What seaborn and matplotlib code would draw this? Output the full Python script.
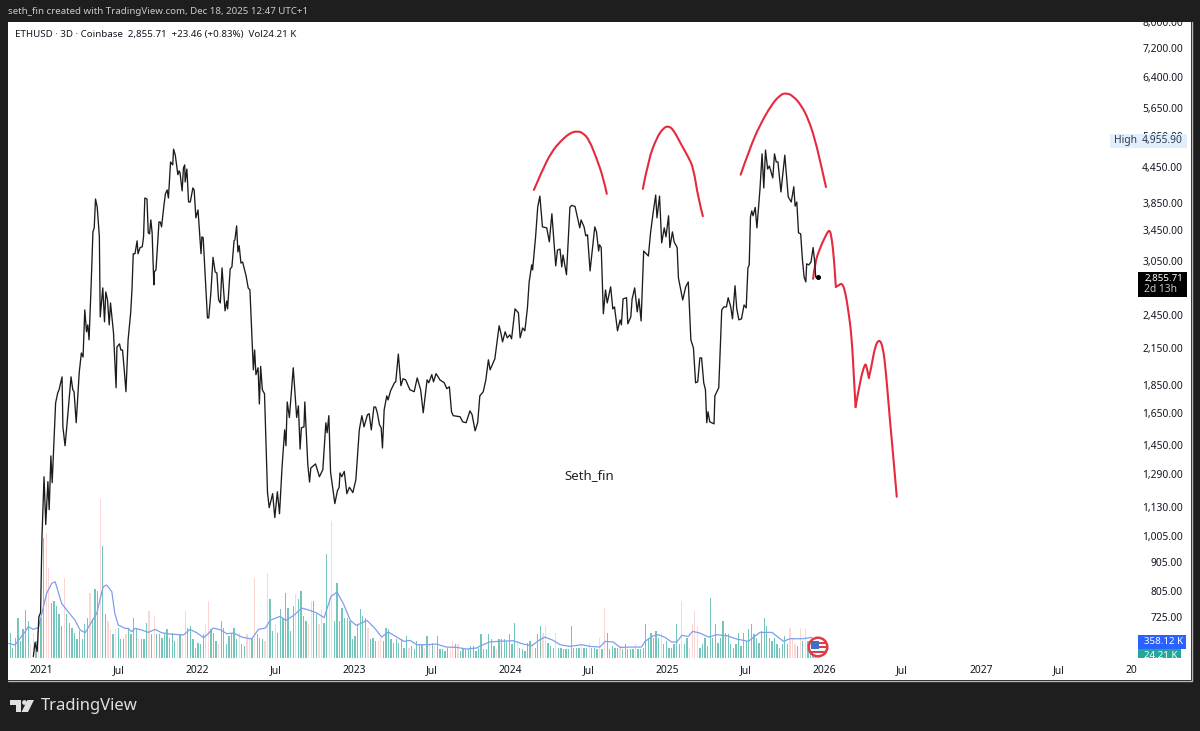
import numpy as np
import pandas as pd
import matplotlib
matplotlib.use('Agg')
import matplotlib.pyplot as plt
import matplotlib.dates as mdates
from matplotlib.patches import Rectangle, Circle, Polygon, PathPatch
from matplotlib.path import Path
from matplotlib.ticker import NullFormatter
import seaborn as sns

# Close prices, days counted from 2021-01-01
price_days = [-18,-14,-9,-5,-1,2,7,11,16,19,23,26,34,39,42,49,51,56,60,70,74,77,82,89,94,98,102,106,109,112,
    117,121,124,127,131,136,138,144,148,151,155,159,162,169,175,177,183,186,190,194,198,203,209,212,215,219,224,226,231,236,
    239,242,247,250,253,256,259,263,264,268,275,278,281,287,290,294,297,302,307,309,313,319,322,324,329,332,335,336,340,344,
    348,354,357,361,366,373,375,378,388,391,396,401,406,410,414,418,422,429,433,435,441,445,450,452,456,459,462,466,470,478,
    483,487,495,498,501,506,509,512,516,521,528,532,540,545,551,556,562,568,571,574,579,588,596,600,604,607,613,615,622,626,
    629,640,649,657,664,667,671,675,685,691,695,697,701,707,713,719,727,734,742,748,753,761,765,770,776,780,784,789,793,796,
    800,806,809,815,824,827,833,839,844,850,860,870,877,885,891,900,904,911,915,921,930,940,946,952,957,961,977,983,991,1000,
    1005,1012,1018,1023,1031,1037,1043,1047,1058,1068,1072,1076,1082,1087,1093,1097,1105,1113,1117,1123,1128,1134,1138,1144,1146,1153,1158,1163,1169,1179,
    1185,1191,1200,1204,1210,1214,1217,1225,1233,1237,1245,1256,1259,1266,1270,1274,1280,1291,1295,1300,1302,1306,1311,1316,1320,1328,1333,1337,1344,1350,
    1353,1357,1365,1368,1375,1378,1384,1390,1394,1399,1405,1416,1421,1427,1433,1436,1442,1447,1453,1457,1463,1466,1472,1476,1483,1486,1496,1503,1509,1513,
    1515,1521,1526,1531,1536,1540,1545,1549,1552,1555,1559,1569,1571,1580,1587,1592,1598,1602,1608,1612,1618,1622,1627,1633,1639,1644,1648,1651,1654,1657,
    1660,1665,1669,1676,1681,1685,1689,1694,1698,1706,1710,1714,1718,1725,1734,1742,1749,1755,1758,1762,1766,1771,1775,1779,1783,1785,1790,1795,1800,1804,
    1806,1808,1812]
price_close = [618,654,631,726,738,990,1277,1053,1252,1118,1389,1247,1720,1792,1814,1911,1562,1447,1562,1911,1814,1800,1588,1942,2104,2070,2504,2292,2357,2219,
    2792,3430,3486,3917,3793,3362,2434,2736,2386,2692,2606,2357,2575,2282,1829,2156,2183,2130,2130,1966,1800,2219,2474,2714,3140,3140,3308,3140,3220,3230,
    3362,3932,3917,3417,3403,3600,3417,2770,2918,2942,3570,3570,3500,3843,4000,4063,3932,4548,4494,4790,4675,4320,4388,4355,4047,4440,4494,4196,4420,3870,
    3870,4095,4063,3630,3748,3140,3362,3350,2424,2424,2685,3095,2918,2906,2606,2575,2966,2494,2595,2514,2954,2978,3308,3321,3514,3164,3244,3025,3037,2873,
    2736,2714,1966,2130,1928,1982,1713,1993,1814,1785,1198,1127,1193,1083,1202,1100,1331,1543,1447,1727,1622,1982,1622,1700,1428,1556,1562,1727,1340,1250,
    1323,1345,1277,1314,1588,1525,1634,1301,1146,1207,1224,1297,1277,1305,1193,1224,1198,1262,1543,1634,1562,1640,1647,1543,1692,1692,1653,1575,1556,1434,
    1673,1770,1741,1807,1866,1873,2095,1844,1897,1888,1814,1800,1903,1814,1653,1888,1866,1928,1873,1936,1888,1866,1822,1836,1660,1634,1627,1594,1588,1666,
    1640,1537,1588,1770,1800,1888,2047,1966,2055,2348,2282,2201,2292,2237,2264,2228,2514,2474,2237,2328,2301,2524,2803,3003,2942,3362,3793,3963,3500,3486,
    3295,3690,2990,3188,3200,2978,3125,2885,3786,3817,3800,3486,3600,3500,3376,3390,2930,3500,3430,3175,3256,3220,2465,2714,2575,2748,2514,2534,2301,2405,
    2357,2618,2630,2367,2434,2616,2736,2484,2618,2395,3175,3112,3417,3704,3980,3630,3963,3281,3486,3362,3660,3220,3430,3295,3220,2849,2606,2748,2803,2405,
    2219,2147,1866,1873,2063,2063,1866,1814,1588,1660,1594,1581,1770,1829,2504,2534,2534,2630,2534,2415,2760,2514,2405,2415,2554,2524,2966,3003,3646,3733,
    3660,3786,3486,4063,4700,4095,4772,4420,4475,4264,4700,4548,4548,4030,4675,3950,3870,4115,3805,3870,3417,3403,3075,2860,2803,3015,3003,3037,3220,3025,
    2860,2849,2855.71]

# Hand drawn red lines, the path is cut at its sharp corners
arc1_days = [1149,1167,1190,1214,1233,1250,1264,1278,1295,1311,1319]
arc1_price = [4063,4370,4740,4970,5110,5153,5110,4970,4620,4265,4000]
arc2_days = [1403,1416,1435,1451,1464,1476,1490,1509,1521,1532,1543]
arc2_price = [4080,4585,5010,5220,5262,5153,4920,4640,4440,3932,3655]
arc3_days = [1631,1653,1676,1703,1723,1737,1753,1773,1789,1804,1820,1830]
arc3_price = [4320,4820,5280,5730,5960,6010,5940,5710,5400,4995,4445,4110]
leg1_days = [1800,1804,1816,1828,1838,1843,1849,1853]
leg1_price = [2838,3025,3214,3362,3472,3362,3075,2748]
leg2_days = [1853,1859,1867,1874,1882,1890,1895,1899]
leg2_price = [2748,2760,2792,2714,2504,2246,1911,1692]
leg3_days = [1899,1909,1921,1925,1930]
leg3_price = [1692,1873,2022,1990,1903]
leg4_days = [1930,1936,1944,1954,1963,1970,1979,1987,1995]
leg4_price = [1903,1990,2156,2228,2156,1942,1607,1384,1178]

# Volume in thousands, one bar every six days from 2020-10-21
vol_k = [542,217,434,853,362,615,1034,795,289,542,362,651,868,2603,2711,1952,1193,1229,1121,940,687,1735,940,759,651,542,398,578,398,723,
    868,1410,831,1482,1446,3434,2422,940,795,615,506,615,651,398,398,506,651,506,853,651,398,398,398,759,1012,506,904,506,506,434,
    542,615,434,542,362,434,506,434,1012,651,687,398,217,325,289,
    506,723,1229,615,542,362,289,795,651,289,470,506,651,398,542,289,253,506,398,434,1735,506,434,398,362,1844,1265,578,723,542,
    1048,868,1410,1085,578,1121,1374,1265,1446,904,795,723,1229,1229,940,723,1048,759,2241,1301,2971,795,1627,795,1085,868,868,795,398,470,
    723,1048,904,868,651,398,434,362,362,434,362,651,615,398,325,398,325,398,217,470,217,
    253,181,362,289,289,217,470,289,325,253,470,181,181,145,217,181,362,289,289,145,217,181,181,253,253,145,217,506,181,181,
    506,398,253,181,398,398,398,362,506,289,759,362,217,181,145,325,362,289,217,506,687,542,687,325,253,217,542,217,217,181,
    181,181,687,217,217,217,253,217,217,325,217,217,181,434,181,1085,542,181,253,217,217,253,
    181,289,181,181,181,289,181,181,217,723,434,542,434,578,434,542,289,362,217,217,289,723,289,1229,289,434,217,723,1012,687,
    217,289,434,253,1287,434,723,325,434,795,542,506,289,217,289,542,253,542,362,615,723,506,434,325,578,868,687,434,362,434,
    289,217,289,470,289,651,398,289,253,651,362,615,362,362,362,289,159]
vol_red = [8,9,11,14,15,21,31,35,38,39,41,45,50,54,56,65,67,68,
    76,77,81,89,92,93,95,99,100,103,111,116,117,120,121,124,125,139,143,144,155,
    161,163,165,171,172,174,189,197,203,207,208,212,222,225,229,231,237,
    243,253,261,264,265,266,267,303,304,305,307,309]

# Volume moving average
ma_days = [-75,-61,-49,-37,-30,-18,-6,2,13,25,33,40,48,60,79,91,103,118,130,138,145,153,165,172,180,196,203,211,219,235,
    250,266,281,301,332,347,363,379,390,401,418,433,449,468,491,507,523,534,557,571,589,608,627,643,660,676,690,705,721,735,
    760,779,794,810,829,846,860,876,899,922,945,969,992,1015,1027,1046,1066,1101,1124,1144,1163,1175,1194,1210,1233,1260,1280,1303,1315,1334,
    1350,1377,1400,1408,1428,1439,1455,1470,1482,1494,1509,1519,1536,1556,1575,1599,1622,1649,1676,1704,1731,1746,1777,1797]
ma_k = [311,275,419,564,672,615,651,962,1395,1612,1648,1432,1178,1034,817,600,542,781,962,1287,1540,1576,1432,962,709,636,636,564,636,600,
    549,615,542,513,492,615,542,434,521,643,607,521,535,448,405,615,643,810,897,810,918,1077,1027,969,868,1330,1424,1171,810,701,
    810,629,448,557,448,354,376,282,282,296,231,224,188,210,268,340,354,369,296,260,390,448,376,282,246,282,246,231,354,340,
    224,231,231,354,477,499,441,340,340,484,463,571,535,448,499,477,405,354,549,549,354,412,412,441]

price_ticks = [8000,7200,6400,5650,5050,4450,3850,3450,3050,2450,2150,1850,1650,1450,1290,1130,1005,905,805,725]
x_ticks = ['2021-01-01','2021-07-01','2022-01-01','2022-07-01','2023-01-01','2023-07-01','2024-01-01','2024-07-01',
    '2025-01-01','2025-07-01','2026-01-01','2026-07-01','2027-01-01','2027-07-01','2028-01-01']
x_labels = ['2021','Jul','2022','Jul','2023','Jul','2024','Jul','2025','Jul','2026','Jul','2027','Jul','20']

BASE = pd.Timestamp('2021-01-01')
def to_dates(days):
    return BASE + pd.to_timedelta(days, unit='D')

def red_curve(ax, days, price):
    # rounded stroke through the read points, like the freehand brush
    xs = mdates.date2num(to_dates(days))
    ys = np.array(price, dtype=float)
    verts = [(xs[0], ys[0])]
    codes = [Path.MOVETO]
    for i in range(1, len(xs) - 1):
        end_x = xs[i + 1] if i == len(xs) - 2 else (xs[i] + xs[i + 1]) / 2
        end_y = ys[i + 1] if i == len(xs) - 2 else np.sqrt(ys[i] * ys[i + 1])
        verts += [(xs[i], ys[i]), (end_x, end_y)]
        codes += [Path.CURVE3, Path.CURVE3]
    ax.add_patch(PathPatch(Path(verts, codes), fill=False, edgecolor=RED, linewidth=1.5, capstyle='round', joinstyle='round'))

sns.set_theme(style='white')
plt.rcParams['font.family'] = ['Noto Sans', 'DejaVu Sans']

BG = '#1e1e1e'
RED = '#e52a3e'
INK = '#131722'

fig = plt.figure(figsize=(12, 7.31), dpi=100, facecolor=BG)
ax = fig.add_axes([8/1200, (731-680)/731, (1191-8)/1200, (680-22)/731])
vol_ax = ax.twinx()
ax.set_zorder(vol_ax.get_zorder() + 1)
ax.patch.set_visible(False)
vol_ax.patch.set_visible(True)
vol_ax.set_facecolor('white')

# Volume panel
vol_dates = pd.date_range('2020-10-21', periods=len(vol_k), freq='6D')
bar_colors = ['#fad6d4' if i in vol_red else '#74c5bb' for i in range(len(vol_k))]
vol_ax.bar(vol_dates, vol_k, width=3, color=bar_colors, linewidth=0)
sns.lineplot(x=to_dates(ma_days), y=ma_k, ax=vol_ax, color='#7f9fec', linewidth=0.9, estimator=None, sort=False, legend=False)
vol_ax.set_ylim(-484, 13795)
vol_ax.set_yticks([])
vol_ax.set_ylabel('')

# Price line and the drawn path
sns.lineplot(x=to_dates(price_days), y=price_close, ax=ax, color='#1c1c1c', linewidth=0.95, estimator=None, sort=False, legend=False)
for days, price in [(arc1_days, arc1_price), (arc2_days, arc2_price), (arc3_days, arc3_price),
                    (leg1_days, leg1_price), (leg2_days, leg2_price), (leg3_days, leg3_price), (leg4_days, leg4_price)]:
    red_curve(ax, days, price)
ax.plot(to_dates(price_days[-1:]), price_close[-1:], 'o', color='black', markersize=2.6)

ax.set_yscale('log')
ax.set_ylim(562.4, 7996)
ax.set_xlim(to_dates(-77), to_dates(2681))
ax.yaxis.tick_right()
ax.yaxis.set_minor_formatter(NullFormatter())
ax.set_yticks(price_ticks, labels=[f'{p:,.2f}' for p in price_ticks])
ax.set_xticks(pd.to_datetime(x_ticks), labels=x_labels)
ax.tick_params(axis='both', which='both', length=0)
ax.tick_params(axis='y', pad=-5.8, labelsize=7.4, labelcolor=INK)
ax.tick_params(axis='x', pad=-10.5, labelsize=7.4, labelcolor=INK)
for lab in ax.get_yticklabels():
    lab.set_ha('right')
for lab in ax.get_xticklabels():
    lab.set_fontweight('normal' if lab.get_text() == 'Jul' else 'bold')
ax.get_xticklabels()[-1].set_ha('right')
ax.set_xlabel('')
ax.set_ylabel('')
ax.grid(False)
for axis in (ax, vol_ax):
    for s in axis.spines.values():
        s.set_visible(False)

# Frame, tags and logo drawn on a pixel overlay
deco = fig.add_axes([0, 0, 1, 1], zorder=10)
deco.set_xlim(0, 1200)
deco.set_ylim(731, 0)
deco.axis('off')
deco.patch.set_visible(False)
deco.add_patch(Rectangle((0, 0), 1200, 22, color=BG, lw=0))
deco.add_patch(Rectangle((0, 681), 1200, 50, color=BG, lw=0))
deco.plot([8, 1191.5, 1191.5], [680.5, 680.5, 22], color='#b5b5b5', lw=1)

deco.text(8, 12, 'seth_fin created with TradingView.com, Dec 18, 2025 12:47 UTC+1', color='#c9c9c9', fontsize=7.0, va='center')
deco.text(15, 34, 'ETHUSD · 3D · Coinbase  2,855.71  +23.46 (+0.83%)  Vol24.21 K', color=INK, fontsize=7.0, va='center')
deco.text(564, 476, 'Seth_fin', color='#222222', fontsize=9.5, va='center')

deco.add_patch(Rectangle((1110, 133.5), 77, 14.5, color='#e3eefb', lw=0))
deco.text(1114, 141, 'High', color='#2a3a55', fontsize=7.4, va='center')
deco.text(1183, 141, '4,955.90', color='#2a3a55', fontsize=7.4, va='center', ha='right')

deco.add_patch(Rectangle((1138, 271.5), 49, 25.5, color='black', lw=0))
deco.text(1183, 278, '2,855.71', color='white', fontsize=7.0, va='center', ha='right', fontweight='bold')
deco.text(1144, 290, '2d 13h', color='#c4c4c4', fontsize=7.4, va='center')

deco.add_patch(Rectangle((1138, 635), 48, 14, color='#2962ff', lw=0))
deco.text(1144, 642, '358.12 K', color='white', fontsize=7.0, va='center', fontweight='bold')
teal = Rectangle((1138, 649), 43, 9, color='#26a69a', lw=0)
deco.add_patch(teal)
vol_tag = deco.text(1144, 655.5, '24.21 K', color='white', fontsize=7.0, va='center', fontweight='bold')
vol_tag.set_clip_path(teal)

# Flag badge at the last bar
deco.add_patch(Circle((818, 647), 9.3, facecolor='white', edgecolor='#e23b47', lw=1.8, zorder=3))
deco.add_patch(Rectangle((819, 642), 6.5, 2, color='#e23b47', lw=0, zorder=4))
deco.add_patch(Rectangle((819, 646), 8, 2, color='#e23b47', lw=0, zorder=4))
deco.add_patch(Rectangle((810, 650.5), 16, 2.4, color='#e23b47', lw=0, zorder=4))
deco.add_patch(Rectangle((811, 640.5), 8, 8, color='#3f6fc4', lw=0, zorder=4))

# TradingView logo
deco.add_patch(Polygon([(10, 700), (21, 700), (21, 712), (15.5, 712), (15.5, 705), (10, 705)], color='#e0e0e0', lw=0))
deco.add_patch(Circle((24.5, 702.5), 2.4, color='#e0e0e0', lw=0))
deco.add_patch(Polygon([(27.5, 700), (34, 700), (28, 712), (21.5, 712)], color='#e0e0e0', lw=0))
deco.text(41, 706, 'TradingView', color='#e0e0e0', fontsize=12, va='center', fontweight='bold')

fig.savefig('out.png', dpi=100, facecolor=BG)
